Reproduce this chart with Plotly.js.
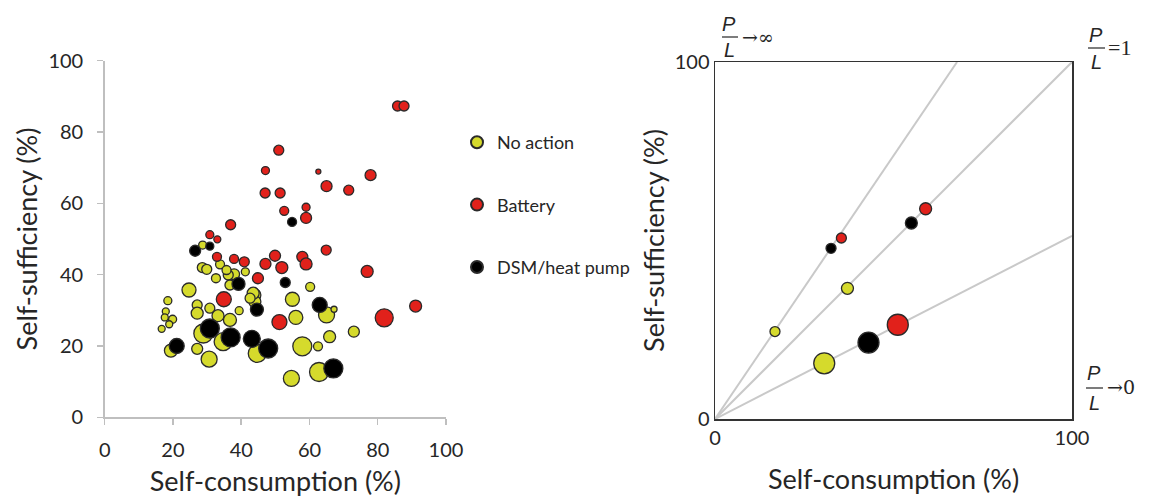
<!DOCTYPE html>
<html><head><meta charset="utf-8">
<script src="https://cdn.plot.ly/plotly-3.0.1.min.js"></script>
<style>html,body{margin:0;padding:0;background:#fff}#chart{width:1158px;height:497px}</style>
</head><body><div id="chart"></div>
<script>
// ---------- Left panel data (self-consumption %, self-sufficiency %, bubble size) ----------
const noActionX = [60.2,55.0,65.0,67.2,56.0,73.0,65.9,57.9,62.5,62.8,54.7,44.7,44.0,44.0,28.7,33.8,28.6,29.9,32.6,37.9,36.2,41.2,36.7,24.7,43.5,39.4,27.1,27.1,30.8,36.7,18.5,17.9,17.6,19.9,18.9,16.7,28.9,34.7,19.4,27.1,30.6,42.6,33.2,35.7];
const noActionY = [36.6,33.1,28.7,30.3,28.0,24.0,22.6,19.9,19.9,12.7,10.9,17.9,34.3,32.4,48.3,42.9,42.0,41.5,39.0,40.1,39.9,40.8,37.1,35.7,34.8,29.9,31.5,29.2,30.6,27.3,32.7,29.7,28.0,27.5,26.1,24.8,23.5,21.2,18.7,19.2,16.3,33.4,28.5,41.3];
const noActionS = [9,14,16,6,14,11,12,19,9,19,16,18,12,12,8,9,10,10,9,11,10,8,10,14,12,8,10,12,10,13,8,7,7,8,7,7,19,18,13,11,16,10,12,9];

const batteryX = [85.8,87.7,51.0,47.1,62.6,77.9,65.0,71.5,47.0,51.4,52.6,59.0,59.0,64.9,49.9,47.1,51.9,57.9,59.0,76.9,44.9,51.2,81.9,91.1,36.9,30.8,33.0,32.9,37.9,40.9,34.9];
const batteryY = [87.3,87.3,74.9,69.2,68.9,67.9,64.8,63.7,62.9,62.9,57.9,58.9,55.9,46.9,45.3,43.0,42.0,45.0,43.0,40.9,39.0,26.7,27.9,31.2,54.0,51.2,49.9,45.0,44.4,43.6,33.1];
const batteryS = [10,10,10,8,5,11,11,10,10,10,9,8,11,10,11,11,12,11,12,12,11,15,18,12,10,8,7,9,9,10,15];

const dsmX = [54.9,52.9,63.0,67.0,47.9,43.1,44.6,26.5,30.8,39.2,30.8,36.9,21.1];
const dsmY = [54.8,37.8,31.5,13.7,19.3,22.0,30.2,46.7,48.0,37.4,24.9,22.4,20.0];
const dsmS = [9,10,15,19,19,17,13,11,8,13,19,19,15];

// ---------- Right panel data ----------
const rNoActionX = [16.8,37.1,30.6], rNoActionY = [24.5,36.6,15.6], rNoActionS = [10,12,21];
const rBatteryX  = [35.4,59.0,51.2], rBatteryY  = [50.7,58.9,26.4], rBatteryS  = [10,12,21];
const rDsmX      = [32.5,55.0,43.0], rDsmY      = [47.8,54.9,21.4], rDsmS      = [10,12,21];
// P/L reference lines through origin: end points
const refLineEndX = [67.8, 100, 100];
const refLineEndY = [100, 100, 51.3];

const seriesNames = ['No action','Battery','DSM/heat pump'];
const ticksLeft = [0,20,40,60,80,100];

const YEL = '#d5da2c', RED = '#e1211b', BLK = '#000000';
const W = 1158, H = 497;
const px = v => v / W, py = v => 1 - v / H;

function bubble(x, y, s, color, name, grp, xa, ya, legend) {
  return {
    type: 'scatter', mode: 'markers', x: x, y: y, name: name,
    xaxis: xa, yaxis: ya, showlegend: legend, legendgroup: grp,
    marker: {size: s, sizemode: 'diameter', color: color, opacity: 1,
             line: {color: '#2a2a2a', width: 1.3}},
    cliponaxis: false, hoverinfo: 'x+y'
  };
}

const traces = [
  bubble(noActionX, noActionY, noActionS, YEL, seriesNames[0], 'a', 'x', 'y', true),
  bubble(batteryX, batteryY, batteryS, RED, seriesNames[1], 'b', 'x', 'y', true),
  bubble(dsmX, dsmY, dsmS, BLK, seriesNames[2], 'c', 'x', 'y', true)
];
refLineEndX.forEach((ex, i) => {
  traces.push({type: 'scatter', mode: 'lines', x: [0, ex], y: [0, refLineEndY[i]],
    xaxis: 'x2', yaxis: 'y2', showlegend: false, hoverinfo: 'skip',
    line: {color: '#c9c9c9', width: 2}});
});
traces.push(bubble(rNoActionX, rNoActionY, rNoActionS, YEL, seriesNames[0], 'a', 'x2', 'y2', false));
traces.push(bubble(rBatteryX, rBatteryY, rBatteryS, RED, seriesNames[1], 'b', 'x2', 'y2', false));
traces.push(bubble(rDsmX, rDsmY, rDsmS, BLK, seriesNames[2], 'c', 'x2', 'y2', false));

const TXT = '#262626';
const tickFont = {family: 'Lato, sans-serif', size: 20, color: TXT};
const titleFont = {family: 'Lato, sans-serif', size: 27, color: TXT};
const GREY = '#bfbfbf';

const leftAxisCommon = {
  range: [0, 100], tickvals: ticksLeft, ticks: 'outside', ticklen: 6, tickwidth: 1.5,
  tickcolor: GREY, showline: true, linecolor: GREY, linewidth: 1.5, showgrid: false,
  zeroline: false, tickfont: tickFont, automargin: false, fixedrange: true
};
const rightAxisCommon = {
  range: [0, 100], tickvals: [0, 100], ticks: '', showline: true, mirror: true,
  linecolor: '#333333', linewidth: 1.5, showgrid: false, zeroline: false,
  tickfont: tickFont, automargin: false, fixedrange: true
};

const mathSans = {family: 'Liberation Sans, Arial, sans-serif', size: 20, color: TXT};
const mathSerif = {family: 'DejaVu Serif, Liberation Serif, serif', size: 19, color: TXT};
const mathSerif2 = {family: 'Liberation Serif, serif', size: 22, color: TXT};
function frac(cx, cyP, cyL, tail, tx, ty, f) {
  return [
    {xref: 'paper', yref: 'paper', x: px(cx), y: py(cyP), text: '<i>P</i>', showarrow: false, font: mathSans, xanchor: 'center', yanchor: 'middle'},
    {xref: 'paper', yref: 'paper', x: px(cx), y: py(cyL), text: '<i>L</i>', showarrow: false, font: mathSans, xanchor: 'center', yanchor: 'middle'},
    {xref: 'paper', yref: 'paper', x: px(tx), y: py(ty), text: tail, showarrow: false, font: f, xanchor: 'left', yanchor: 'middle'}
  ];
}
function bar(x0, x1, y) {
  return {type: 'line', xref: 'paper', yref: 'paper', x0: px(x0), x1: px(x1), y0: py(y), y1: py(y),
          line: {color: TXT, width: 1.2}};
}

const layout = {
  width: W, height: H, margin: {l: 0, r: 0, t: 0, b: 0},
  paper_bgcolor: '#fff', plot_bgcolor: '#fff',
  font: {family: 'Lato, sans-serif', color: TXT},
  xaxis: Object.assign({}, leftAxisCommon, {domain: [px(104.7), px(446)], anchor: 'y', ticklabelstandoff: 8,
    title: {text: 'Self-consumption (%)', font: titleFont, standoff: 12}}),
  yaxis: Object.assign({}, leftAxisCommon, {domain: [py(417.3), py(60.7)], anchor: 'x', ticklabelstandoff: 10,
    title: {text: 'Self-sufficiency (%)', font: titleFont, standoff: 3}}),
  xaxis2: Object.assign({}, rightAxisCommon, {domain: [px(715), px(1072)], anchor: 'y2',
    title: {text: 'Self-consumption (%)', font: titleFont, standoff: 22}}),
  yaxis2: Object.assign({}, rightAxisCommon, {domain: [py(419), py(62)], anchor: 'x2',
    title: {text: 'Self-sufficiency (%)', font: titleFont, standoff: 2}}),
  legend: {x: px(457), y: py(124), xanchor: 'left', yanchor: 'top', itemsizing: 'constant',
    tracegroupgap: 36, font: {family: 'Lato, sans-serif', size: 18, color: TXT},
    bgcolor: 'rgba(0,0,0,0)', itemwidth: 30},
  annotations: [].concat(
    frac(729, 24, 50, '→∞', 740, 37, mathSerif),
    frac(1096, 35, 62, '=1', 1106, 48, mathSerif2),
    frac(1094, 373, 403, '→0', 1105, 387, mathSerif)
  ),
  shapes: [bar(722, 738, 37), bar(1088, 1105, 48), bar(1086, 1103, 388)],
  showlegend: true
};

Plotly.newPlot('chart', traces, layout, {displayModeBar: false, staticPlot: true});
</script></body></html>
